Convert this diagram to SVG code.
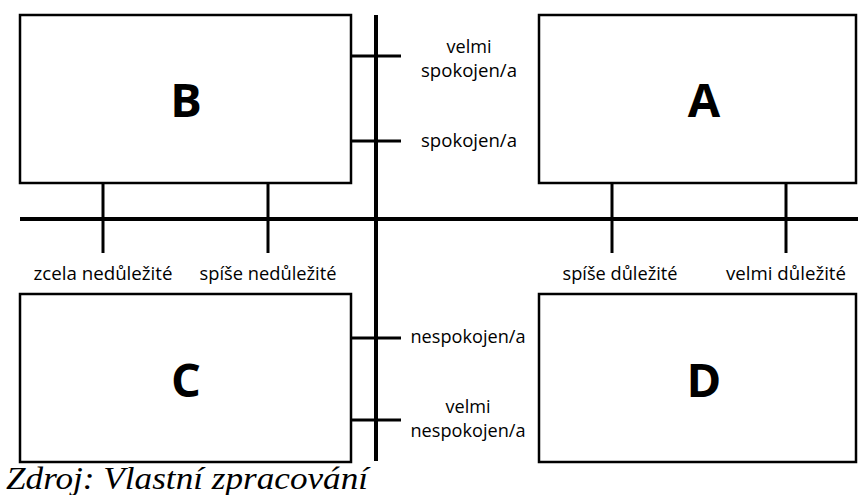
<svg xmlns="http://www.w3.org/2000/svg" width="858" height="495" viewBox="0 0 858 495">
<style>
.box{fill:#fff;stroke:#000;stroke-width:2.5}
.axis{stroke:#000;stroke-width:4;fill:none}
.tick{stroke:#000;stroke-width:3;fill:none}
.big{font-family:"Open Sans","Liberation Sans",sans-serif;font-weight:bold;font-size:47px;text-anchor:middle;fill:#000}
.lbl{font-family:"Open Sans","Liberation Sans",sans-serif;font-size:17.5px;text-anchor:middle;fill:#000}
.cap{font-family:"Liberation Serif","Times New Roman",serif;font-style:italic;font-size:32px;fill:#000}
</style>
<g id="B"><rect class="box" x="20" y="15" width="331" height="168"/><text class="big" x="186" y="117">B</text></g>
<g id="A"><rect class="box" x="539" y="15" width="317" height="168"/><text class="big" x="704" y="117">A</text></g>
<g id="C"><rect class="box" x="20" y="294" width="331" height="168"/><text class="big" x="186" y="397">C</text></g>
<g id="D"><rect class="box" x="539" y="294" width="317" height="168"/><text class="big" x="704" y="397">D</text></g>
<g id="connectors">
<line class="axis" x1="20" y1="219" x2="858" y2="219"/>
<line class="axis" x1="376" y1="15" x2="376" y2="461"/>
<line class="tick" x1="103" y1="183" x2="103" y2="253"/>
<line class="tick" x1="268" y1="183" x2="268" y2="253"/>
<line class="tick" x1="612" y1="183" x2="612" y2="253"/>
<line class="tick" x1="786" y1="183" x2="786" y2="253"/>
<line class="tick" x1="351" y1="56" x2="401" y2="56"/>
<line class="tick" x1="351" y1="141" x2="401" y2="141"/>
<line class="tick" x1="351" y1="338" x2="401" y2="338"/>
<line class="tick" x1="351" y1="420" x2="401" y2="420"/>
</g>
<g id="labels">
<text class="lbl" x="469" y="53" textLength="45" lengthAdjust="spacingAndGlyphs">velmi</text>
<text class="lbl" x="469" y="77" textLength="96" lengthAdjust="spacingAndGlyphs">spokojen/a</text>
<text class="lbl" x="469" y="147" textLength="96" lengthAdjust="spacingAndGlyphs">spokojen/a</text>
<text class="lbl" x="468" y="343" textLength="115" lengthAdjust="spacingAndGlyphs">nespokojen/a</text>
<text class="lbl" x="468" y="413" textLength="45" lengthAdjust="spacingAndGlyphs">velmi</text>
<text class="lbl" x="468" y="437" textLength="115" lengthAdjust="spacingAndGlyphs">nespokojen/a</text>
<text class="lbl" x="103" y="280" textLength="139" lengthAdjust="spacingAndGlyphs">zcela nedůležité</text>
<text class="lbl" x="268" y="280" textLength="137" lengthAdjust="spacingAndGlyphs">spíše nedůležité</text>
<text class="lbl" x="620" y="280" textLength="115" lengthAdjust="spacingAndGlyphs">spíše důležité</text>
<text class="lbl" x="786" y="280" textLength="120" lengthAdjust="spacingAndGlyphs">velmi důležité</text>
</g>
<text class="cap" x="6" y="489" textLength="362" lengthAdjust="spacingAndGlyphs">Zdroj: Vlastní zpracování</text>
</svg>
